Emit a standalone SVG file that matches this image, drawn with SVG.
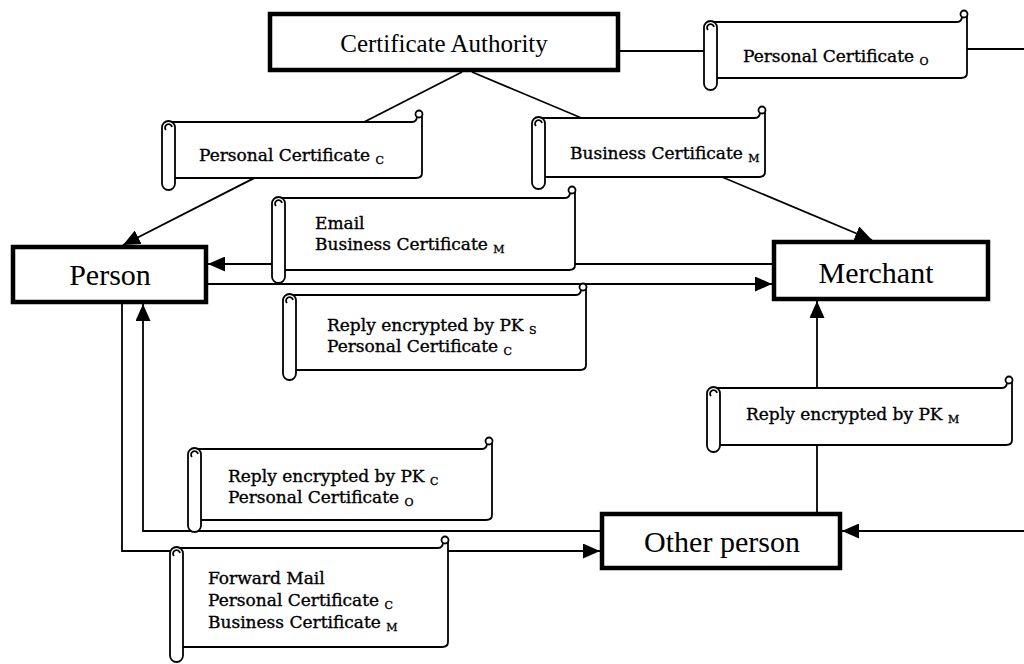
<svg xmlns="http://www.w3.org/2000/svg" width="1024" height="664" viewBox="0 0 1024 664">
  <style>
    .box { fill: #fff; stroke: #000; stroke-width: 4.5; }
    .lbl { font-family: "Liberation Serif", "Times New Roman", serif; fill: #000; text-anchor: middle; }
    .conn { fill: none; stroke: #000; stroke-width: 1.8; }
    .scroll path, .scroll rect, .scroll circle { fill: #fff; stroke: #000; stroke-width: 1.8; stroke-linejoin: round; }
    .scroll path.curl { fill: none; }
    .msg { font-family: "DejaVu Serif", "Liberation Serif", serif; font-size: 17px; fill: #000; stroke: #000; stroke-width: 0.35; }
    .sub { font-size: 11px; }
  </style>
  <defs>
    <marker id="arrow" markerUnits="userSpaceOnUse" markerWidth="18" markerHeight="15" refX="17" refY="7.5" orient="auto">
      <path d="M0,0 L17,7.5 L0,15 Z" fill="#000"/>
    </marker>
  </defs>

  <!-- connectors -->
  <g id="connectors">
    <line class="conn" x1="620" y1="51" x2="706" y2="51"/>
    <line class="conn" x1="967" y1="49" x2="1024" y2="49"/>
    <line class="conn" x1="462" y1="72" x2="123" y2="245" marker-end="url(#arrow)"/>
    <line class="conn" x1="472" y1="72" x2="872" y2="240" marker-end="url(#arrow)"/>
    <line class="conn" x1="772" y1="264" x2="208" y2="264" marker-end="url(#arrow)"/>
    <line class="conn" x1="208" y1="284" x2="772" y2="284" marker-end="url(#arrow)"/>
    <polyline class="conn" points="122,304 122,551 600,551" marker-end="url(#arrow)"/>
    <polyline class="conn" points="600,531 143,531 143,304" marker-end="url(#arrow)"/>
    <line class="conn" x1="817" y1="512" x2="817" y2="301" marker-end="url(#arrow)"/>
    <line class="conn" x1="1024" y1="531" x2="842" y2="531" marker-end="url(#arrow)"/>
  </g>

  <!-- message scrolls -->
  <g id="scroll-personal-o" class="scroll">
    <path d="M710,22 H957 Q962,22 962,16 L967,14 V73 Q967,78 961,78 H710 Z"/>
    <circle cx="964" cy="14" r="3.5"/>
    <rect x="704" y="21" width="13" height="69" rx="6.5"/>
    <path class="curl" d="M708,30 a3.5,3.5 0 1 1 6,-3"/>
    <text class="msg" x="743" y="62">Personal Certificate <tspan class="sub" dy="3">O</tspan></text>
  </g>

  <g id="scroll-personal-c" class="scroll">
    <path d="M168,122 H412 Q417,122 417,116 L422,114 V173 Q422,178 416,178 H168 Z"/>
    <circle cx="419" cy="114" r="3.5"/>
    <rect x="162" y="121" width="13" height="69" rx="6.5"/>
    <path class="curl" d="M166,130 a3.5,3.5 0 1 1 6,-3"/>
    <text class="msg" x="199" y="161">Personal Certificate <tspan class="sub" dy="3">C</tspan></text>
  </g>

  <g id="scroll-business-m" class="scroll">
    <path d="M538,118 H755 Q760,118 760,112 L765,110 V172 Q765,177 759,177 H538 Z"/>
    <circle cx="762" cy="110" r="3.5"/>
    <rect x="532" y="117" width="13" height="72" rx="6.5"/>
    <path class="curl" d="M536,126 a3.5,3.5 0 1 1 6,-3"/>
    <text class="msg" x="570" y="159">Business Certificate <tspan class="sub" dy="3">M</tspan></text>
  </g>

  <g id="scroll-email" class="scroll">
    <path d="M278,198 H565 Q570,198 570,192 L575,190 V265 Q575,270 569,270 H278 Z"/>
    <circle cx="572" cy="190" r="3.5"/>
    <rect x="272" y="197" width="13" height="86" rx="6.5"/>
    <path class="curl" d="M276,206 a3.5,3.5 0 1 1 6,-3"/>
    <text class="msg" x="315" y="229">Email</text>
    <text class="msg" x="315" y="250">Business Certificate <tspan class="sub" dy="3">M</tspan></text>
  </g>

  <g id="scroll-reply-s" class="scroll">
    <path d="M289,295 H576 Q581,295 581,289 L586,287 V365 Q586,370 580,370 H289 Z"/>
    <circle cx="583" cy="287" r="3.5"/>
    <rect x="283" y="294" width="13" height="86" rx="6.5"/>
    <path class="curl" d="M287,303 a3.5,3.5 0 1 1 6,-3"/>
    <text class="msg" x="327" y="331">Reply encrypted by PK <tspan class="sub" dy="3">S</tspan></text>
    <text class="msg" x="327" y="352">Personal Certificate <tspan class="sub" dy="3">C</tspan></text>
  </g>

  <g id="scroll-reply-c" class="scroll">
    <path d="M194,449 H482 Q487,449 487,443 L492,441 V515 Q492,520 486,520 H194 Z"/>
    <circle cx="489" cy="441" r="3.5"/>
    <rect x="188" y="448" width="13" height="84" rx="6.5"/>
    <path class="curl" d="M192,457 a3.5,3.5 0 1 1 6,-3"/>
    <text class="msg" x="228" y="482">Reply encrypted by PK <tspan class="sub" dy="3">C</tspan></text>
    <text class="msg" x="228" y="503">Personal Certificate <tspan class="sub" dy="3">O</tspan></text>
  </g>

  <g id="scroll-forward" class="scroll">
    <path d="M176,548 H438 Q443,548 443,542 L448,540 V642 Q448,647 442,647 H176 Z"/>
    <circle cx="445" cy="540" r="3.5"/>
    <rect x="170" y="547" width="13" height="115" rx="6.5"/>
    <path class="curl" d="M174,556 a3.5,3.5 0 1 1 6,-3"/>
    <text class="msg" x="208" y="584">Forward Mail</text>
    <text class="msg" x="208" y="606">Personal Certificate <tspan class="sub" dy="3">C</tspan></text>
    <text class="msg" x="208" y="628">Business Certificate <tspan class="sub" dy="3">M</tspan></text>
  </g>

  <g id="scroll-reply-m" class="scroll">
    <path d="M713,388 H1002 Q1007,388 1007,382 L1012,380 V440 Q1012,445 1006,445 H713 Z"/>
    <circle cx="1009" cy="380" r="3.5"/>
    <rect x="707" y="387" width="13" height="65" rx="6.5"/>
    <path class="curl" d="M711,396 a3.5,3.5 0 1 1 6,-3"/>
    <text class="msg" x="746" y="420">Reply encrypted by PK <tspan class="sub" dy="3">M</tspan></text>
  </g>

  <!-- parties -->
  <g id="node-ca">
    <rect class="box" x="270" y="14" width="348" height="56"/>
    <text class="lbl" x="444" y="52" font-size="25">Certificate Authority</text>
  </g>
  <g id="node-person">
    <rect class="box" x="13" y="247" width="193" height="55"/>
    <text class="lbl" x="110" y="285" font-size="30">Person</text>
  </g>
  <g id="node-merchant">
    <rect class="box" x="774" y="242" width="214" height="57"/>
    <text class="lbl" x="876" y="283" font-size="30">Merchant</text>
  </g>
  <g id="node-other">
    <rect class="box" x="602" y="514" width="238" height="54"/>
    <text class="lbl" x="722" y="552" font-size="30">Other person</text>
  </g>
</svg>
